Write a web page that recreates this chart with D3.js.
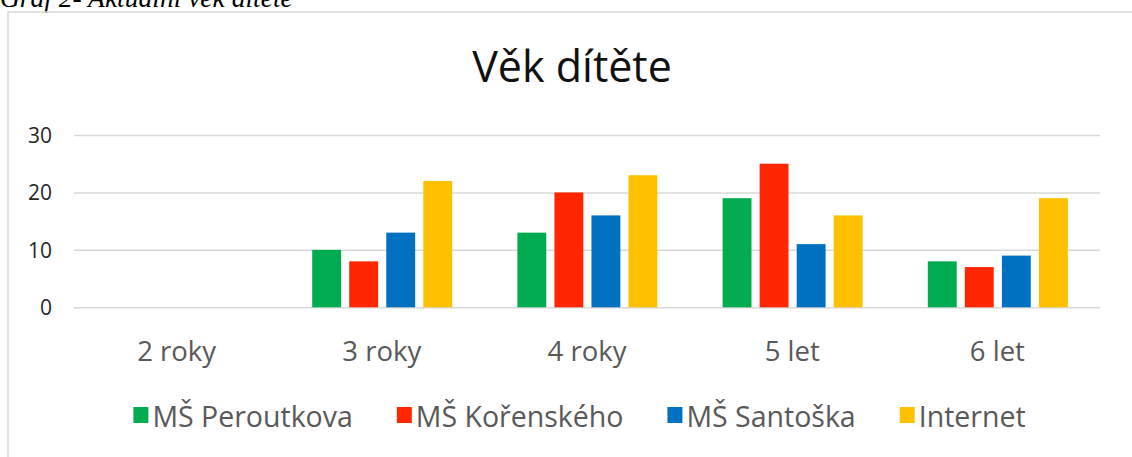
<!DOCTYPE html>
<html>
<head>
<meta charset="utf-8">
<script src="https://cdn.jsdelivr.net/npm/d3@7"></script>
<style>
  body { margin:0; background:#fff; }
  svg { display:block; }
</style>
</head>
<body>
<svg id="chart" width="1132" height="457"></svg>
<script>
// data
var categories = ['2 roky','3 roky','4 roky','5 let','6 let'];
var seriesNames = ['MŠ Peroutkova','MŠ Kořenského','MŠ Santoška','Internet'];
var peroutkova = [0,10,13,19,8];
var korenskeho = [0,8,20,25,7];
var santoska = [0,13,16,11,9];
var internet = [0,22,23,16,19];
var yTicks = [0,10,20,30];
var colors = ['#00ac4f','#ff2600','#0070c0','#ffc000'];

var values = [peroutkova, korenskeho, santoska, internet];
var rows = categories.map(function(c,i){
	return { cat:c, vals: seriesNames.map(function(s,j){ return {name:s, v:values[j][i], idx:j}; }) };
});

var svg = d3.select('#chart');
var font = '"Open Sans", sans-serif';

// caption above the chart frame (cut at top in the source too)
svg.append('text')
	.attr('x',0).attr('y',7)
	.style('font-family','"Liberation Serif", serif')
	.style('font-style','italic')
	.style('font-size','27.5px')
	.style('fill','#000')
	.text('Graf 2- Aktuální věk dítěte');

// chart frame
svg.append('path')
	.attr('d','M8,470 L8,12 L1140,12')
	.style('fill','none')
	.style('stroke','#d9d9d9')
	.style('stroke-width',1.5);

// title
svg.append('text')
	.attr('x',572).attr('y',82)
	.style('text-anchor','middle')
	.style('font-family',font)
	.style('font-size','43px')
	.style('fill','#111')
	.text('Věk dítěte');

var x0 = d3.scaleBand().domain(categories).range([74,1100]).padding(0);
var x1 = d3.scaleBand().domain(seriesNames).range([33,173]).paddingInner(0.22);
var y = d3.scaleLinear().domain([0,30]).range([307.3,135]);

// gridlines + y labels
var yAxis = svg.append('g')
	.attr('transform','translate(74,0)')
	.call(d3.axisLeft(y).tickValues(yTicks).tickSize(-1026).tickPadding(22).tickFormat(d3.format('d')));
yAxis.select('.domain').remove();
yAxis.selectAll('.tick line').style('stroke','#d9d9d9').style('stroke-width',1.5);
yAxis.selectAll('.tick text')
	.style('font-family',font)
	.style('font-size','21px')
	.style('fill','#262626')
	.attr('dy','0.36em');

// bars
var groups = svg.append('g').selectAll('g')
	.data(rows).enter().append('g')
	.attr('transform',function(d){ return 'translate('+x0(d.cat)+',0)'; });
groups.selectAll('rect')
	.data(function(d){ return d.vals; })
	.enter().append('rect')
	.attr('x',function(d){ return x1(d.name); })
	.attr('width',x1.bandwidth())
	.attr('y',function(d){ return y(d.v); })
	.attr('height',function(d){ return y(0)-y(d.v); })
	.style('fill',function(d){ return colors[d.idx]; });

// category labels
var xAxis = svg.append('g')
	.attr('transform','translate(0,307.3)')
	.call(d3.axisBottom(x0).tickSize(0).tickPadding(34));
xAxis.select('.domain').remove();
xAxis.selectAll('.tick text')
	.style('font-family',font)
	.style('font-size','27.5px')
	.style('fill','#595959');

// legend
var legend = svg.append('g');
var lx = 0;
seriesNames.forEach(function(s,i){
	var item = legend.append('g').attr('transform','translate('+lx+',0)');
	item.append('rect')
		.attr('x',0).attr('y',407)
		.attr('width',15).attr('height',16)
		.style('fill',colors[i]);
	var t = item.append('text')
		.attr('x',19).attr('y',426.5)
		.style('font-family',font)
		.style('font-size','28.5px')
		.style('fill','#595959')
		.text(s);
	lx += 19 + t.node().getComputedTextLength() + 44;
});
var lw = lx - 44;
legend.attr('transform','translate('+(579.5-lw/2)+',0)');
</script>
</body>
</html>
